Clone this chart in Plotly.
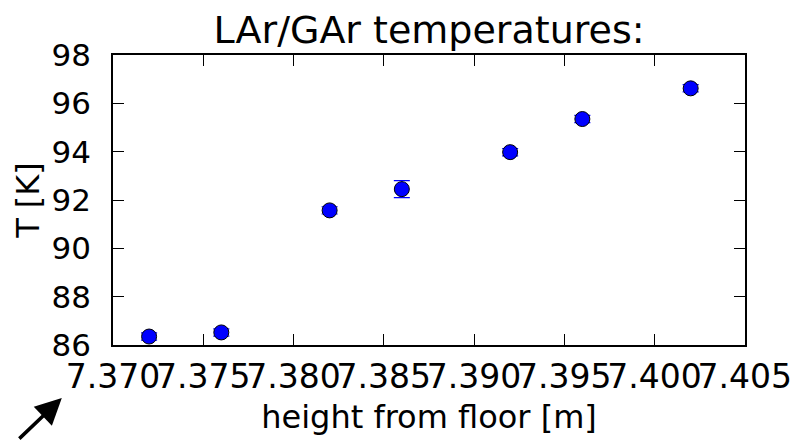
import plotly.graph_objects as go

# Measured LAr/GAr temperatures vs. sensor height
height_m = [7.3720, 7.3760, 7.3820, 7.3860, 7.3920, 7.3960, 7.4020]
temp_K = [86.35, 86.52, 91.57, 92.45, 93.98, 95.35, 96.62]
temp_err = [0.15, 0.15, 0.15, 0.35, 0.15, 0.15, 0.15]

x_ticks = [7.370, 7.375, 7.380, 7.385, 7.390, 7.395, 7.400, 7.405]
x_tick_text = ["7.370", "7.375", "7.380", "7.385", "7.390", "7.395", "7.400", "7.405"]
y_ticks = [86, 88, 90, 92, 94, 96, 98]

FONT = "DejaVu Sans"

fig = go.Figure()
fig.add_trace(go.Scatter(
    x=height_m,
    y=temp_K,
    mode="markers",
    marker=dict(color="#0000ff", size=15, line=dict(color="black", width=1)),
    error_y=dict(type="data", array=temp_err, visible=True,
                 color="#0000ff", thickness=1.2, width=8),
    showlegend=False,
))

axis_common = dict(
    showline=True, linecolor="black", linewidth=1.5, mirror="ticks",
    ticks="inside", ticklen=11, tickwidth=1, tickcolor="black",
    showgrid=False, zeroline=False,
)

fig.update_layout(
    width=791, height=441,
    margin=dict(l=113, r=46, t=55, b=96),
    paper_bgcolor="white", plot_bgcolor="white",
    font=dict(family=FONT, color="black"),
    title=dict(text="LAr/GAr temperatures:", x=0.5, xref="paper", xanchor="center",
               y=1, yref="paper", yanchor="bottom", pad=dict(b=12),
               font=dict(family=FONT, size=38, color="black")),
    xaxis=dict(range=[7.370, 7.40501], tickvals=x_ticks, ticktext=x_tick_text,
               tickangle=0, ticklabelstandoff=2, ticklabeloverflow="allow",
               tickfont=dict(family=FONT, size=33, color="black"),
               title=dict(text="height from floor [m]", standoff=10,
                          font=dict(family=FONT, size=32, color="black")),
               automargin=False, **axis_common),
    yaxis=dict(range=[86, 98], tickvals=y_ticks, ticklabelstandoff=14,
               tickfont=dict(family=FONT, size=31, color="black"),
               title=dict(text="T [K]", standoff=2,
                          font=dict(family=FONT, size=32, color="black")),
               automargin=False, **axis_common),
    annotations=[dict(
        x=-0.081, y=-0.183, xref="paper", yref="paper",
        ax=-44, ay=42, axref="pixel", ayref="pixel",
        showarrow=True, arrowhead=2, arrowsize=1.5, arrowwidth=3.5,
        arrowcolor="black", text="",
    )],
)

fig.write_html("out.html")
